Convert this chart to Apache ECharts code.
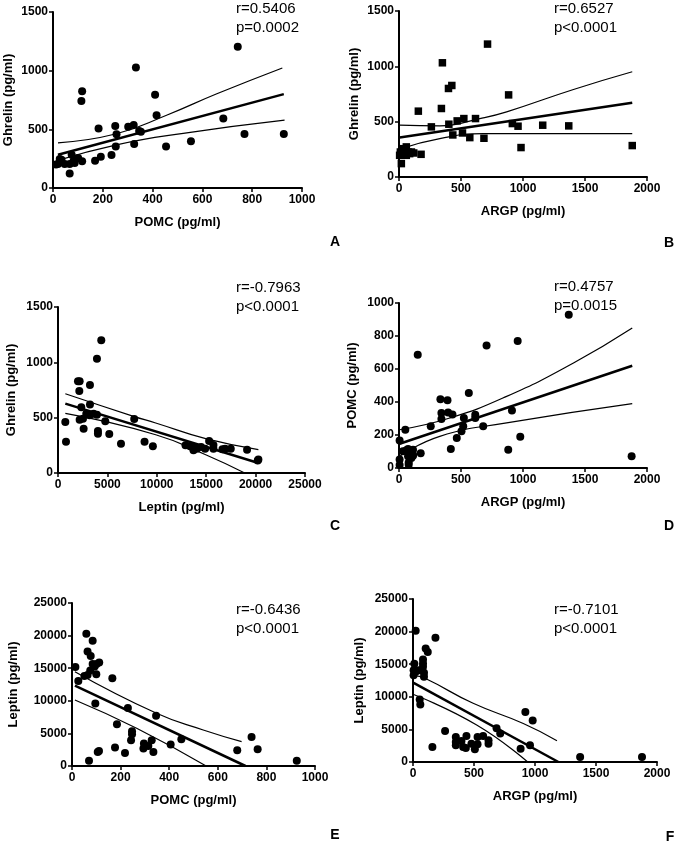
<!DOCTYPE html>
<html>
<head>
<meta charset="utf-8">
<script src="https://cdn.jsdelivr.net/npm/echarts@6/dist/echarts.min.js"></script>
<style>
html, body { margin: 0; padding: 0; background: #fff; }
#main { width: 677px; height: 847px; }
</style>
</head>
<body>
<div id="main"></div>
<script>
// A: POMC vs Ghrelin
var pomcGhrelin = [[742,1203],[333,1028],[117,825],[114,741],[410,795],[416,620],[183,508],[250,528],[302,522],[324,536],[255,458],[346,486],[353,480],[684,593],[769,460],[927,460],[554,399],[454,354],[326,376],[252,354],[235,281],[192,266],[169,233],[67,123],[75,283],[27,247],[20,205],[47,205],[67,205],[87,213],[101,255],[117,227],[83,233],[34,241],[12,200]];
var fitA = [[20,283],[927,800]];
var upA = [[20,385],[255,462],[456,620],[658,803],[921,1023]];
var loA = [[20,235],[255,368],[523,466],[930,578]];

// B: ARGP vs Ghrelin
var argpGhrelin = [[714,1201],[350,1032],[399,800],[426,827],[342,619],[156,595],[884,742],[261,453],[402,477],[469,507],[523,528],[617,528],[434,380],[512,398],[571,356],[685,350],[914,483],[960,459],[984,266],[1159,468],[1369,462],[1881,284],[178,205],[19,121],[11,226],[38,211],[59,272],[86,211],[100,226],[119,217],[59,196],[5,196],[27,256],[73,226]];
var fitB = [[5,356],[1881,670]];
var upB = [[5,468],[329,462],[652,528],[868,589],[1407,791],[1881,951]];
var loB = [[19,257],[329,347],[679,392],[1881,392]];

// C: Leptin vs Ghrelin
var leptinGhrelin = [[4380,1199],[3942,1033],[2022,828],[2190,828],[2156,741],[3235,795],[3235,620],[2358,593],[741,461],[809,283],[2190,482],[2527,491],[2594,400],[2864,536],[3201,521],[3605,536],[3942,527],[4043,380],[4043,355],[4784,467],[5189,352],[6375,265],[7715,488],[8760,283],[9602,241],[12904,250],[13376,241],[13713,205],[13881,235],[14049,220],[14487,235],[14892,220],[15296,289],[15734,253],[15734,220],[16644,214],[16913,220],[17486,220],[19137,211],[20216,114],[20283,123]];
var fitC = [[741,627],[20283,90]];
var upC = [[741,716],[7648,512],[9889,452],[14950,310],[20283,211]];
var loC = [[741,538],[9889,346],[14950,165],[18900,0]];

// D: ARGP vs POMC
var argpPomc = [[1369,929],[706,743],[957,770],[151,687],[334,416],[391,410],[563,455],[342,333],[396,337],[431,325],[342,297],[256,253],[523,303],[615,323],[615,303],[518,253],[504,222],[466,182],[679,253],[911,349],[978,190],[881,111],[418,115],[1876,71],[175,89],[51,232],[5,166],[5,51],[5,18],[32,101],[59,107],[86,91],[73,115],[113,111],[113,81],[73,71],[78,34],[78,20],[100,61],[113,75]];
var fitD = [[5,147],[1881,620]];
var upD = [[5,232],[410,303],[868,434],[1407,636],[1881,848]];
var loD = [[5,71],[329,192],[868,273],[1881,390]];

// E: POMC vs Leptin
var pomcLeptin = [[59,20277],[85,19199],[64,17556],[77,16889],[112,15862],[93,15246],[85,15657],[75,14630],[101,15657],[14,15195],[51,13809],[64,13963],[26,13039],[100,14066],[166,13450],[96,9600],[230,8881],[346,7700],[185,6417],[247,5339],[247,4877],[243,3953],[296,3439],[328,3953],[294,2669],[314,3080],[335,2156],[177,2823],[218,2002],[106,2156],[111,2310],[70,821],[406,3285],[450,4107],[680,2413],[739,4466],[764,2567],[925,821]];
var fitE = [[12,12320],[714,0]];
var upE = [[12,14460],[348,8080],[540,5520],[698,3730]];
var loE = [[12,10120],[266,5780],[552,0]];

// F: ARGP vs Leptin
var argpLeptin = [[22,20133],[184,19057],[104,17418],[121,16854],[82,15727],[82,15113],[82,14600],[11,15061],[5,14088],[27,13934],[44,14088],[5,13320],[90,13678],[90,13064],[55,9580],[60,8811],[263,4764],[159,2305],[351,3842],[351,3074],[351,2561],[397,3227],[411,2305],[433,2152],[438,3996],[479,2818],[507,1947],[529,3842],[529,2715],[575,3996],[619,3330],[619,2818],[685,5174],[715,4355],[882,2049],[921,7684],[959,2561],[981,6352],[1370,768],[1877,768]];
var fitF = [[5,12141],[1192,0]];
var upF = [[5,13300],[98,12840],[493,9000],[904,5900],[1180,3270]];
var loF = [[5,10350],[522,5675],[940,0]];

var xNames = ['POMC (pg/ml)', 'ARGP (pg/ml)', 'Leptin (pg/ml)', 'ARGP (pg/ml)', 'POMC (pg/ml)', 'ARGP (pg/ml)'];
var yNames = ['Ghrelin (pg/ml)', 'Ghrelin (pg/ml)', 'Ghrelin (pg/ml)', 'POMC (pg/ml)', 'Leptin (pg/ml)', 'Leptin (pg/ml)'];
var xMax = [1000, 2000, 25000, 2000, 1000, 2000];
var xStep = [200, 500, 5000, 500, 200, 500];
var yMax = [1500, 1500, 1500, 1000, 25000, 25000];
var yStep = [500, 500, 500, 200, 5000, 5000];
var rText = ['r=0.5406', 'r=0.6527', 'r=-0.7963', 'r=0.4757', 'r=-0.6436', 'r=-0.7101'];
var pText = ['p=0.0002', 'p<0.0001', 'p<0.0001', 'p=0.0015', 'p<0.0001', 'p<0.0001'];
var letters = ['A', 'B', 'C', 'D', 'E', 'F'];

var points = [pomcGhrelin, argpGhrelin, leptinGhrelin, argpPomc, pomcLeptin, argpLeptin];
var fits = [fitA, fitB, fitC, fitD, fitE, fitF];
var ups = [upA, upB, upC, upD, upE, upF];
var los = [loA, loB, loC, loD, loE, loF];

// layout of the six panels
var grids = [
	{left: 53, top: 12, width: 249, height: 176},
	{left: 399, top: 11, width: 248, height: 166},
	{left: 58, top: 307, width: 247, height: 166},
	{left: 399, top: 303, width: 248, height: 165},
	{left: 72, top: 603, width: 243, height: 163},
	{left: 413, top: 599, width: 244, height: 163}
];
var yGaps = [38, 38, 40, 40, 52, 47];
var textPos = [[236, 9], [554, 9], [236, 288], [554, 287], [236, 610], [554, 610]];
var letterPos = [[335, 242], [669, 243], [335, 526], [669, 526], [335, 835], [670, 837]];

var font = 'Liberation Sans';
var axisLine = {lineStyle: {color: '#000', width: 2}};
var axisTick = {length: 4, lineStyle: {color: '#000', width: 1.5}};
function plain(v) { return String(v); }

var option = {
	animation: false,
	backgroundColor: '#fff',
	grid: [], xAxis: [], yAxis: [], series: [], graphic: []
};

for (var i = 0; i < 6; i++) {
	var g = grids[i];
	option.grid.push({left: g.left, top: g.top, width: g.width, height: g.height, outerBoundsMode: 'none'});
	option.xAxis.push({
		type: 'value', gridIndex: i, min: 0, max: xMax[i], interval: xStep[i],
		name: xNames[i], nameLocation: 'middle', nameGap: 28,
		nameTextStyle: {color: '#000', fontWeight: 'bold', fontSize: 13, fontFamily: font},
		axisLine: axisLine, axisTick: axisTick, splitLine: {show: false},
		axisLabel: {color: '#000', fontWeight: 'bold', fontSize: 12, fontFamily: font, margin: 6, formatter: plain}
	});
	option.yAxis.push({
		type: 'value', gridIndex: i, min: 0, max: yMax[i], interval: yStep[i],
		name: yNames[i], nameLocation: 'middle', nameGap: yGaps[i],
		nameTextStyle: {color: '#000', fontWeight: 'bold', fontSize: 13, fontFamily: font},
		axisLine: axisLine, axisTick: axisTick, splitLine: {show: false},
		axisLabel: {color: '#000', fontWeight: 'bold', fontSize: 12, fontFamily: font, margin: 5, formatter: plain}
	});
	option.series.push({
		type: 'scatter', xAxisIndex: i, yAxisIndex: i, z: 5,
		symbol: i === 1 ? 'rect' : 'circle', symbolSize: i === 1 ? 7.5 : 8,
		itemStyle: {color: '#000', opacity: 1}, data: points[i]
	});
	option.series.push({
		type: 'line', xAxisIndex: i, yAxisIndex: i, showSymbol: false, silent: true,
		lineStyle: {color: '#000', width: 2.5}, data: fits[i]
	});
	option.series.push({
		type: 'line', xAxisIndex: i, yAxisIndex: i, showSymbol: false, silent: true, smooth: true,
		lineStyle: {color: '#000', width: 1.2}, data: ups[i]
	});
	option.series.push({
		type: 'line', xAxisIndex: i, yAxisIndex: i, showSymbol: false, silent: true, smooth: true,
		lineStyle: {color: '#000', width: 1.2}, data: los[i]
	});
	option.graphic.push({
		type: 'text', style: {x: textPos[i][0], y: textPos[i][1], text: rText[i], fill: '#000',
			font: '15px "Liberation Sans"', verticalAlign: 'middle'}
	});
	option.graphic.push({
		type: 'text', style: {x: textPos[i][0], y: textPos[i][1] + 19, text: pText[i], fill: '#000',
			font: '15px "Liberation Sans"', verticalAlign: 'middle'}
	});
	option.graphic.push({
		type: 'text', style: {x: letterPos[i][0], y: letterPos[i][1], text: letters[i], fill: '#000',
			font: 'bold 14px "Liberation Sans"', align: 'center', verticalAlign: 'middle'}
	});
}

var chart = echarts.init(document.getElementById('main'));
chart.setOption(option);
</script>
</body>
</html>
